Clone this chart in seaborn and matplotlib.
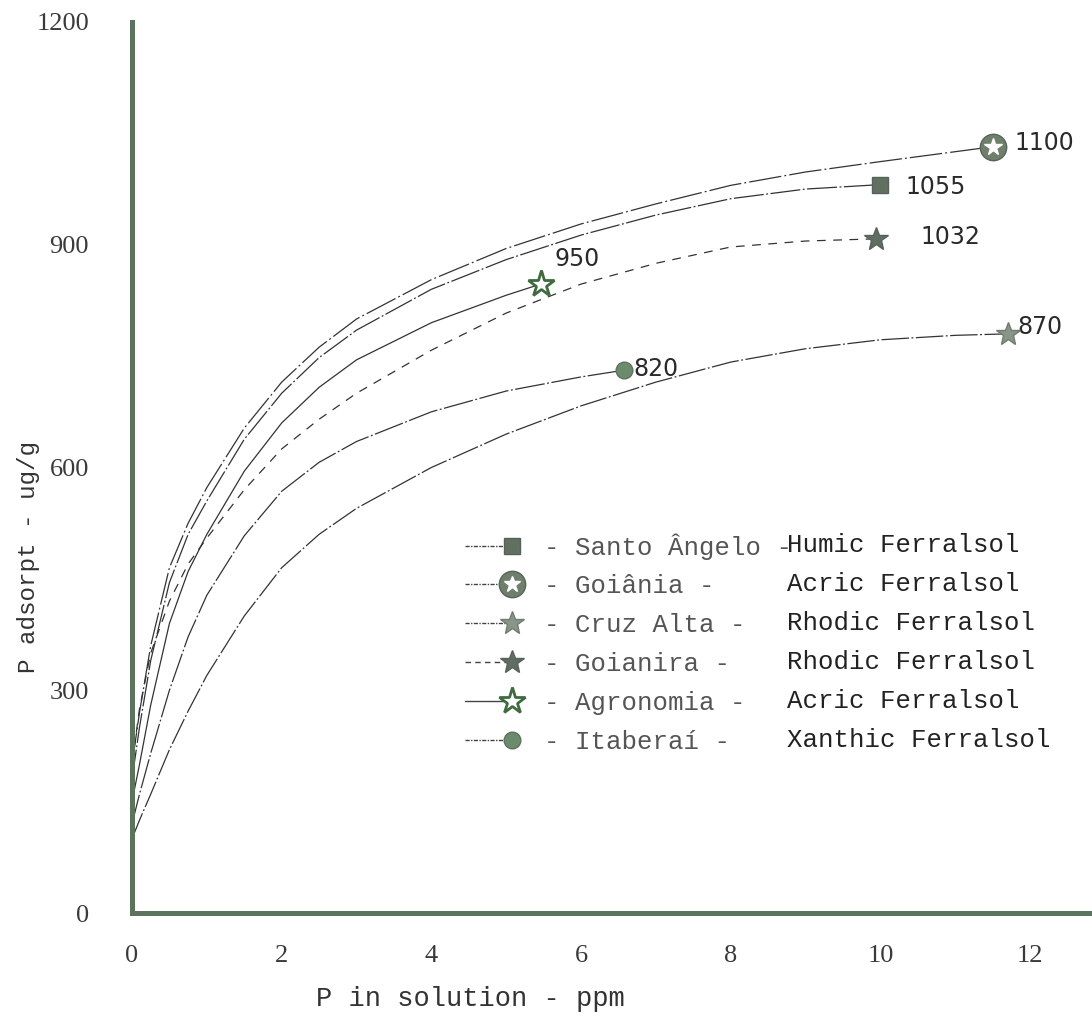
import matplotlib
matplotlib.use("Agg")
import matplotlib.pyplot as plt
import seaborn as sns
import pandas as pd
from matplotlib.lines import Line2D
from matplotlib.legend_handler import HandlerLine2D, HandlerTuple

# values (P in solution ppm / P adsorbed ug/g)
sites = ["Santo Ângelo", "Goiânia", "Cruz Alta", "Goianira", "Agronomia", "Itaberaí"]
soils = ["Humic Ferralsol", "Acric Ferralsol", "Rhodic Ferralsol",
         "Rhodic Ferralsol", "Acric Ferralsol", "Xanthic Ferralsol"]
max_labels = ["1055", "1100", "870", "1032", "950", "820"]

x_santo = [0, 0.1, 0.25, 0.5, 0.75, 1, 1.5, 2, 2.5, 3, 4, 5, 6, 7, 8, 9, 10]
y_santo = [180, 250, 340, 445, 510, 555, 638, 700, 748, 785, 840, 880, 913, 940, 962, 975, 981]

x_goiania = [0, 0.1, 0.25, 0.5, 0.75, 1, 1.5, 2, 2.5, 3, 4, 5, 6, 7, 8, 9, 10, 11.5]
y_goiania = [200, 270, 360, 465, 525, 573, 653, 715, 762, 800, 853, 895, 928, 955, 980, 998, 1012, 1032]

x_cruz = [0, 0.1, 0.25, 0.5, 0.75, 1, 1.5, 2, 2.5, 3, 4, 5, 6, 7, 8, 9, 10, 11, 11.7]
y_cruz = [100, 125, 160, 220, 272, 320, 400, 465, 510, 545, 600, 645, 683, 715, 742, 760, 772, 778, 780]

x_goianira = [0, 0.1, 0.25, 0.5, 0.75, 1, 1.5, 2, 2.5, 3, 4, 5, 6, 7, 8, 9, 9.94]
y_goianira = [200, 275, 350, 420, 470, 505, 570, 625, 665, 700, 758, 808, 847, 875, 897, 905, 908]

x_agro = [0, 0.1, 0.25, 0.5, 0.75, 1, 1.5, 2, 2.5, 3, 4, 5, 5.46]
y_agro = [150, 200, 280, 390, 460, 510, 595, 660, 708, 745, 795, 832, 847]

x_itab = [0, 0.1, 0.25, 0.5, 0.75, 1, 1.5, 2, 2.5, 3, 4, 5, 6, 6.57]
y_itab = [120, 160, 215, 300, 372, 428, 508, 568, 607, 635, 675, 703, 722, 731]

xs = [x_santo, x_goiania, x_cruz, x_goianira, x_agro, x_itab]
ys = [y_santo, y_goiania, y_cruz, y_goianira, y_agro, y_itab]

rows = []
for s, xv, yv in zip(sites, xs, ys):
    for a, b in zip(xv, yv):
        rows.append({"site": s, "x": a, "y": b})
df = pd.DataFrame(rows)

axis_col = "#5c735d"
ink = "#333333"
dashes = {"Santo Ângelo": (24, 2, 1.5, 2), "Goiânia": (26, 2.5, 1.5, 2.5),
          "Cruz Alta": (22, 2, 1.5, 2), "Goianira": (7, 6),
          "Agronomia": "", "Itaberaí": (24, 2, 1.5, 2)}
palette = {s: ink for s in sites}

# marker styles for the end points
mk = {"Santo Ângelo": dict(marker="s", ms=12, mfc="#62705f", mec="#56635a"),
      "Goiânia": dict(marker="o", ms=19, mfc="#6f7f6c", mec="#56655a"),
      "Cruz Alta": dict(marker="*", ms=18, mfc="#8a958a", mec="#6f7c70"),
      "Goianira": dict(marker="*", ms=18, mfc="#5f6d62", mec="#56635a"),
      "Agronomia": dict(marker="*", ms=20, mfc="white", mec="#3f6b3f", mew=2),
      "Itaberaí": dict(marker="o", ms=12, mfc="#6c8a6c", mec="#5c735d")}

sns.set_style("white")
plt.rcParams["font.family"] = ["Liberation Mono", "DejaVu Sans"]

fig = plt.figure(figsize=(10.92, 10.21), dpi=100)
ax = fig.add_axes([132 / 1092, 108 / 1021, 958 / 1092, 891 / 1021])

sns.lineplot(data=df, x="x", y="y", hue="site", style="site", dashes=dashes,
             palette=palette, sort=False, estimator=None, legend=False,
             linewidth=0.9, ax=ax)

offsets = {"Santo Ângelo": (18, -2), "Goiânia": (16, 3), "Cruz Alta": (7, 5),
           "Goianira": (32, 1), "Agronomia": (10, 18), "Itaberaí": (7, 1)}
handles = []
for s, xv, yv, lab in zip(sites, xs, ys, max_labels):
    ax.plot([xv[-1]], [yv[-1]], linestyle="none", zorder=5, **mk[s])
    if s == "Goiânia":
        ax.plot([xv[-1]], [yv[-1]], linestyle="none", marker="*", ms=13,
                mfc="white", mec="white", zorder=6)
    ax.annotate(lab, (xv[-1], yv[-1]), xytext=offsets[s], textcoords="offset points",
                ha="left", va="center", fontsize=17, color="#2a2a2a",
                family="DejaVu Sans")
    if s == "Goianira":
        ls = (0, (4, 3))
    elif s == "Agronomia":
        ls = "-"
    else:
        ls = (0, (3, 1, 1, 1))
    h = Line2D([], [], color="#444444", lw=1.0, linestyle=ls, **mk[s])
    if s == "Goiânia":
        h = (h, Line2D([], [], linestyle="none", marker="*", ms=12, mfc="white", mec="white"))
    handles.append(h)


class EndMarker(HandlerLine2D):
    # legend line with the marker at its right end
    def create_artists(self, legend, orig_handle, xdescent, ydescent, width,
                       height, fontsize, trans):
        x0, x1 = -xdescent, -xdescent + width
        yc = (height - ydescent) / 2
        line = Line2D([x0, x1], [yc, yc])
        self.update_prop(line, orig_handle, legend)
        line.set_marker("None")
        mark = Line2D([x1], [yc])
        self.update_prop(mark, orig_handle, legend)
        mark.set_linestyle("None")
        line.set_transform(trans)
        mark.set_transform(trans)
        return [line, mark]


hm = {Line2D: EndMarker(), tuple: HandlerTuple(ndivide=1, pad=0)}
leg1 = ax.legend(handles=handles, labels=["- " + s + " -" for s in sites],
                 handler_map=hm, loc="upper left", bbox_to_anchor=(465 / 1092, 1 - 533 / 1021),
                 bbox_transform=fig.transFigure, frameon=False, fontsize=18.5,
                 handlelength=1.83, handletextpad=1.25, labelspacing=0.58,
                 borderpad=0, borderaxespad=0, labelcolor="#555555")
ax.add_artist(leg1)
blank = [Line2D([], [], linestyle="none") for _ in soils]
ax.legend(handles=blank, labels=soils, loc="upper left",
          bbox_to_anchor=(787 / 1092, 1 - 533 / 1021), bbox_transform=fig.transFigure,
          frameon=False, fontsize=18.5, handlelength=0, handletextpad=0,
          labelspacing=0.58, borderpad=0, borderaxespad=0, labelcolor="#222222")

ax.set_xlim(0, 12.8)
ax.set_ylim(0, 1200)
ax.set_xticks([0, 2, 4, 6, 8, 10, 12])
ax.set_yticks([0, 300, 600, 900, 1200])
for sp in ["top", "right"]:
    ax.spines[sp].set_visible(False)
for sp in ["left", "bottom"]:
    ax.spines[sp].set_color(axis_col)
    ax.spines[sp].set_linewidth(3.6)
ax.tick_params(axis="y", direction="out", length=9, width=2, color=axis_col,
               pad=22, labelsize=19, labelcolor="#3a3a3a")
ax.tick_params(axis="x", direction="out", length=9, width=1.5, color="#555555",
               pad=14, labelsize=19, labelcolor="#3a3a3a")
for t in ax.get_xticklabels() + ax.get_yticklabels():
    t.set_family("Liberation Serif")

ax.set_xlabel("P in solution - ppm", fontsize=19.5, color="#333333")
ax.set_ylabel("P adsorpt - ug/g", fontsize=17.5, color="#333333")
ax.xaxis.set_label_coords(0.353, -0.082)
ax.yaxis.set_label_coords(-0.096, 0.40)

plt.savefig("out.png", dpi=100)
